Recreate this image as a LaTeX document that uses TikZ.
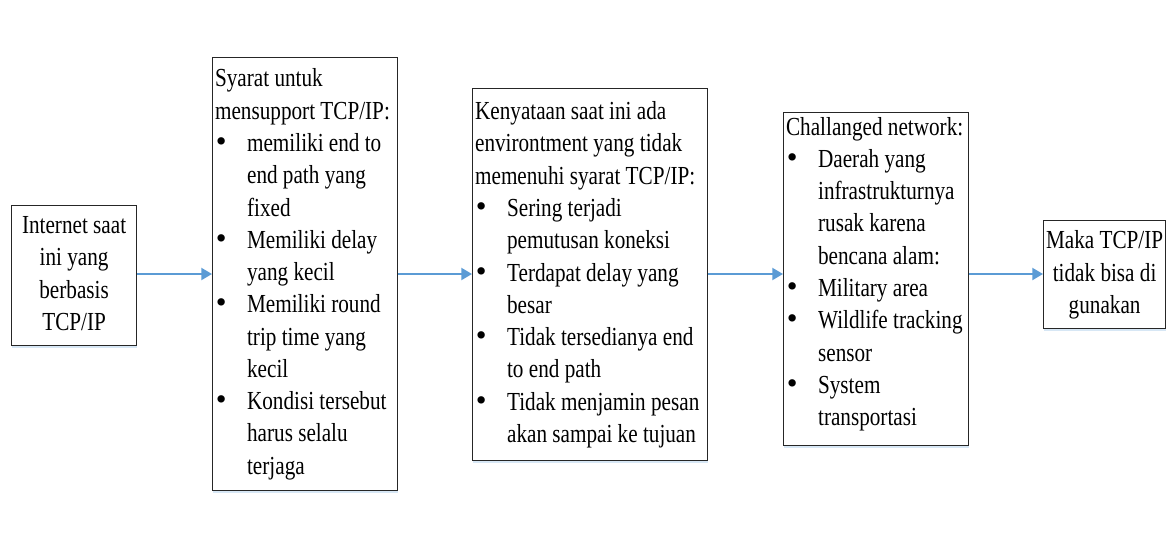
\documentclass[tikz,border=0pt]{standalone}
\usepackage{fontspec}
\setmainfont[FakeStretch=0.815]{Liberation Serif}
\newfontfamily\bulletfont{Liberation Serif}
\usetikzlibrary{arrows.meta,shadows}
\definecolor{arrowblue}{HTML}{5B9BD5}
\definecolor{shadowblue}{HTML}{BDD7EE}
\newcommand{\bitem}{\makebox[24pt][l]{\hspace{0.5pt}{\bulletfont\fontsize{23}{24.2}\selectfont\textbullet}}}
\newcommand{\cont}{\hspace*{24pt}}
\newcommand{\lbox}[2]{\makebox[#1][l]{\begin{tabular}{@{}l@{}}#2\end{tabular}}}
\newcommand{\cbox}[1]{\begin{tabular}{@{}c@{}}#1\end{tabular}}
\begin{document}
\begin{tikzpicture}[x=0.75pt,y=-0.75pt,
  box/.style={draw=black!85, line width=0.9pt, fill=white, rectangle, inner xsep=1.5pt, inner ysep=0pt,
    font=\fontsize{19.5}{24.2}\selectfont, anchor=north west,
    drop shadow={shadow xshift=0pt, shadow yshift=-2pt, fill=shadowblue, opacity=0.6}},
  arr/.style={draw=arrowblue, line width=1.5pt, -{Triangle[length=8pt,width=9pt]}}
]
\useasboundingbox (0,0) rectangle (1166,532);
\coordinate (ay) at (0,274);
\node[box, minimum width=93.75pt, minimum height=105pt] (b1) at (11,205)
  {\cbox{Internet saat\\ini yang\\berbasis\\TCP/IP}};
\node[box, minimum width=138.75pt, minimum height=324.75pt] (b2) at (212,57)
  {\lbox{135pt}{Syarat untuk\\
   mensupport TCP/IP:\\
   \bitem memiliki end to\\
   \cont end path yang\\
   \cont fixed\\
   \bitem Memiliki delay\\
   \cont yang kecil\\
   \bitem Memiliki round\\
   \cont trip time yang\\
   \cont kecil\\
   \bitem Kondisi tersebut\\
   \cont harus selalu\\
   \cont terjaga}};
\node[box, minimum width=176.25pt, minimum height=279pt] (b3) at (472,88)
  {\lbox{172.5pt}{Kenyataan saat ini ada\\
   environtment yang tidak\\
   memenuhi syarat TCP/IP:\\
   \bitem Sering terjadi\\
   \cont pemutusan koneksi\\
   \bitem Terdapat delay yang\\
   \cont besar\\
   \bitem Tidak tersedianya end\\
   \cont to end path\\
   \bitem Tidak menjamin pesan\\
   \cont akan sampai ke tujuan}};
\node[box, minimum width=138.75pt, minimum height=248.25pt] (b4) at (783,112)
  {\lbox{135pt}{Challanged network:\\
   \bitem Daerah yang\\
   \cont infrastrukturnya\\
   \cont rusak karena\\
   \cont bencana alam:\\
   \bitem Military area\\
   \bitem Wildlife tracking\\
   \cont sensor\\
   \bitem System\\
   \cont transportasi\rule[-14.7pt]{0pt}{1pt}}};
\node[box, minimum width=91.5pt, minimum height=81pt] (b5) at (1043,220)
  {\cbox{Maka TCP/IP\\tidak bisa di\\gunakan}};
\draw[arr] (b1.east |- ay) -- (b2.west |- ay);
\draw[arr] (b2.east |- ay) -- (b3.west |- ay);
\draw[arr] (b3.east |- ay) -- (b4.west |- ay);
\draw[arr] (b4.east |- ay) -- (b5.west |- ay);
\end{tikzpicture}
\end{document}
